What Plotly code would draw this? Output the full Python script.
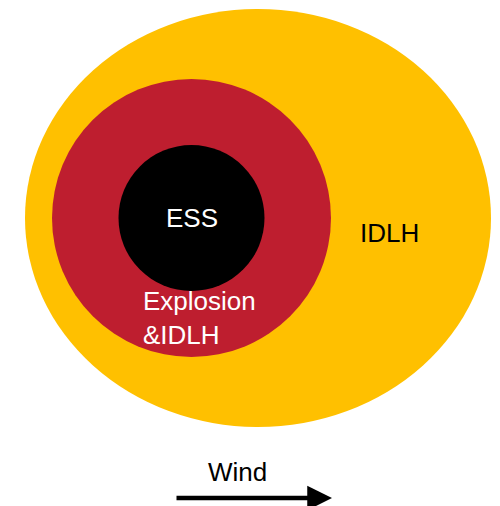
import plotly.graph_objects as go

# Zone geometry (pixel-space diagram units): center x, center y, radius x, radius y
zone_names = ["IDLH", "Explosion &IDLH", "ESS"]
zone_cx = [258, 191.5, 191.5]
zone_cy = [218, 218, 218]
zone_rx = [233, 139.5, 73]
zone_ry = [209, 139, 73]
zone_colors = ["#FFC000", "#BE1E2F", "#000000"]

labels = ["ESS", "IDLH", "Explosion<br>&IDLH", "Wind"]
label_x = [192, 389, 141, 237]
label_y = [218, 233, 318, 472]
label_colors = ["white", "black", "white", "black"]
label_anchor = ["center", "center", "left", "center"]

wind_start = (175, 498)
wind_end = (332, 498)

# page offset (browser body margin)
OFF = 8

fig = go.Figure()
fig.add_trace(go.Scatter(x=[OFF, 500], y=[OFF, 506], mode="markers",
                         marker=dict(opacity=0), hoverinfo="skip", showlegend=False))

for cx, cy, rx, ry, c in zip(zone_cx, zone_cy, zone_rx, zone_ry, zone_colors):
    fig.add_shape(type="circle", xref="x", yref="y",
                  x0=cx - rx, x1=cx + rx, y0=cy - ry, y1=cy + ry,
                  fillcolor=c, line=dict(width=0), layer="below")

font_family = "Liberation Sans, Arial, sans-serif"
for t, x, y, c, a in zip(labels, label_x, label_y, label_colors, label_anchor):
    fig.add_annotation(x=x, y=y, xref="x", yref="y", text=t, showarrow=False,
                       xanchor=a, yanchor="middle", align="left",
                       font=dict(family=font_family, size=26, color=c))

fig.add_annotation(x=wind_end[0], y=wind_end[1], ax=wind_start[0], ay=wind_start[1],
                   xref="x", yref="y", axref="x", ayref="y", text="",
                   showarrow=True, arrowhead=2, arrowsize=1.1, arrowwidth=4.5,
                   arrowcolor="black")

fig.update_layout(width=500, height=506, margin=dict(l=0, r=0, t=0, b=0),
                  paper_bgcolor="white", plot_bgcolor="white", showlegend=False)
fig.update_xaxes(range=[OFF, 500 + OFF], visible=False, fixedrange=True)
fig.update_yaxes(range=[506 + OFF, OFF], visible=False, fixedrange=True)

fig.write_html("out.html")
